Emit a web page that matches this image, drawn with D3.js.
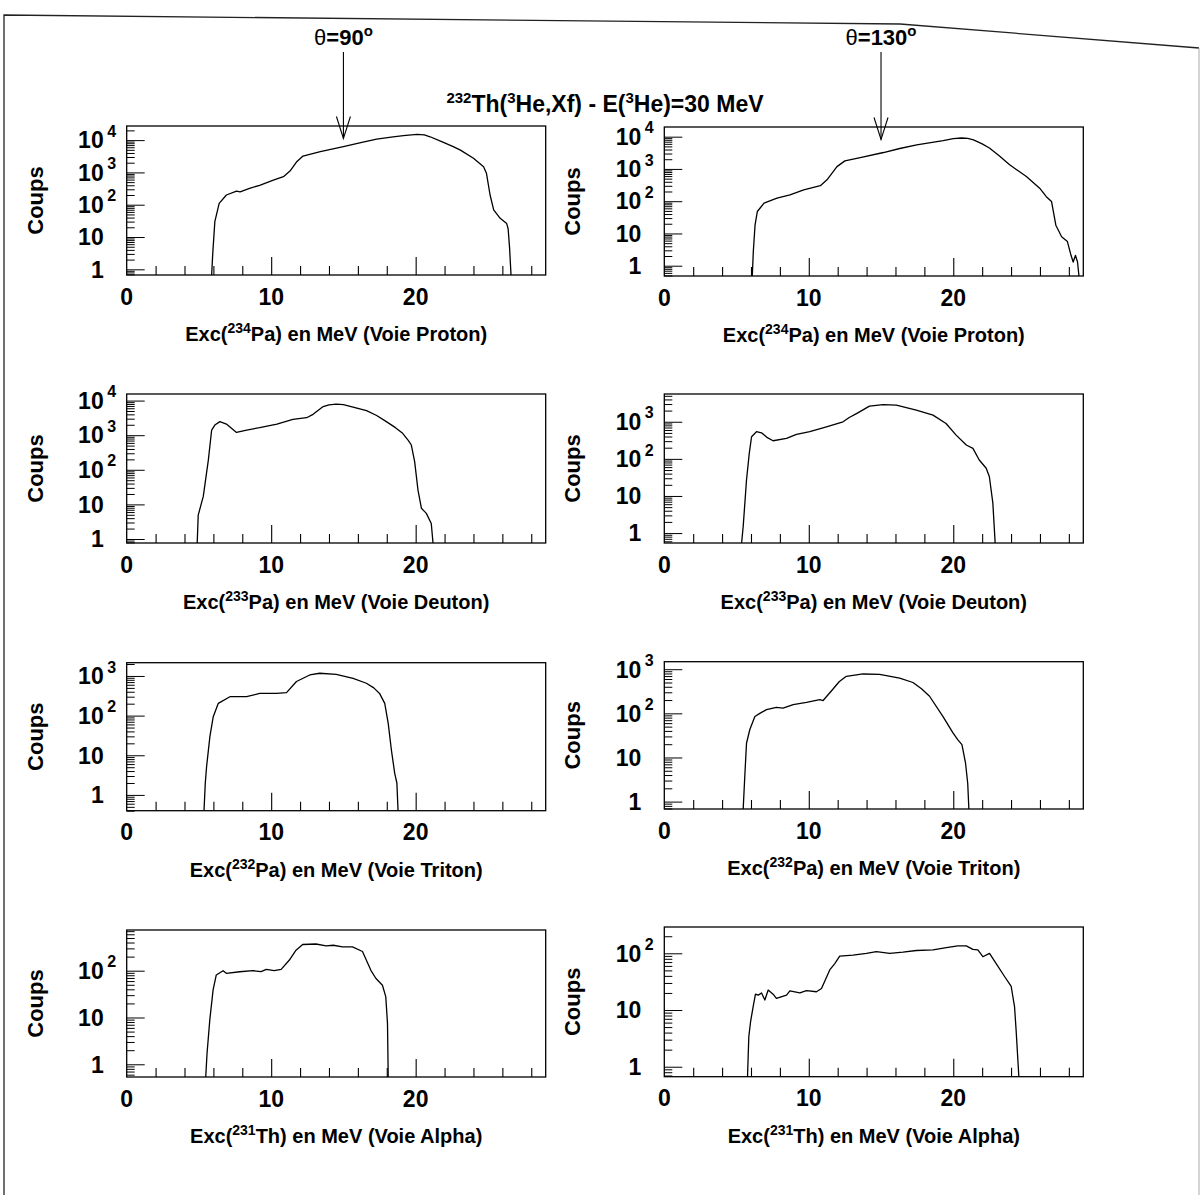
<!DOCTYPE html>
<html><head><meta charset="utf-8">
<script src="https://cdn.jsdelivr.net/npm/d3@7"></script>
<style>body{margin:0;background:#fff}</style>
</head><body>
<svg id="c" width="1202" height="1195"></svg>
<script>
// ---------------- data ----------------
const xMajorTicks = [0, 10, 20];
const xMinorTicks = [2, 4, 6, 8, 12, 14, 16, 18, 22, 24, 26, 28];
const nuclei = ["234", "234", "233", "233", "232", "232", "231", "231"];
const elements = ["Pa", "Pa", "Pa", "Pa", "Pa", "Pa", "Th", "Th"];
const channels = ["Proton", "Proton", "Deuton", "Deuton", "Triton", "Triton", "Alpha", "Alpha"];
const angles = ["90", "130"];
const arrowEnergy = 15;
const titleParts = ["232", "Th(", "3", "He,Xf) - E(", "3", "He)=30 MeV"];

// [excitation energy MeV, counts]; 0.1 = empty bins (below axis)
const proton90 = [[5.88,0.1],[5.95,2.8],[6.1,30],[6.4,110],[6.9,200],[7.6,265],[7.85,250],[8.5,320],[9.2,400],[10.15,580],[10.85,740],[11.3,1100],[11.75,2100],[12.2,3200],[13.4,4400],[15.0,6300],[16.2,8300],[17.3,10700],[18.3,12300],[19.15,13700],[20.1,15000],[20.6,14500],[21.0,12700],[21.8,9000],[22.6,6300],[23.1,4900],[24.0,2750],[24.7,1500],[24.9,940],[25.15,200],[25.4,69],[25.85,38],[26.3,26],[26.4,18],[26.5,4.6],[26.6,0.1]];
const proton130 = [[6.09,0.1],[6.16,2.7],[6.28,18],[6.44,48],[6.9,87],[7.8,124],[8.7,158],[9.65,225],[10.8,302],[11.26,460],[11.95,1180],[12.5,1780],[13.56,2250],[15.17,3230],[16.3,4300],[17.47,5600],[19.3,7600],[20.0,8700],[20.57,9100],[21.0,8800],[21.4,7950],[22.0,6000],[22.5,4460],[23.2,2500],[23.9,1340],[25.06,580],[25.98,253],[26.44,138],[26.8,98],[27.1,18],[27.5,7.9],[27.9,5.6],[28.15,2.1],[28.3,1.3],[28.46,2.1],[28.6,1.3],[28.7,0.1]];
const deuton90 = [[4.88,0.1],[4.95,4.9],[5.3,17],[5.65,190],[5.88,1410],[6.1,1960],[6.45,2460],[6.9,2100],[7.6,1200],[8.3,1410],[9.2,1650],[10.4,2100],[11.5,2880],[12.45,3200],[12.9,4000],[13.6,6700],[14.0,7500],[14.5,7950],[15.0,7600],[15.4,6950],[16.0,6000],[16.6,5100],[17.3,3700],[17.97,2460],[18.6,1650],[19.1,1130],[19.5,700],[19.7,520],[19.93,173],[20.16,26],[20.4,7.7],[20.74,5.5],[21.08,2.8],[21.2,0.1]];
const deuton130 = [[5.35,0.1],[5.46,1.5],[5.69,27],[5.88,141],[6.04,395],[6.38,540],[6.73,505],[7.1,380],[7.53,308],[8.46,357],[9.15,455],[10.07,540],[11.22,730],[12.37,1000],[12.8,1300],[13.3,1660],[14.2,2630],[15.14,2900],[16.06,2810],[17.44,2050],[18.6,1510],[19.5,900],[20.2,437],[20.9,236],[21.36,192],[21.8,93],[22.28,56],[22.5,33],[22.74,6.4],[22.9,0.1]];
const triton90 = [[5.35,0.1],[5.44,2],[5.53,5.2],[5.76,30],[5.99,94],[6.34,204],[7.14,300],[8.3,300],[9.2,363],[10.37,363],[11.06,380],[11.75,725],[12.67,1060],[13.36,1170],[14.5,1100],[15.67,870],[16.59,655],[17.1,500],[17.5,363],[17.86,204],[18.1,64],[18.32,13.6],[18.55,3.5],[18.7,2],[18.78,0.1]];
const triton130 = [[5.46,0.1],[5.57,3.7],[5.69,21],[5.92,43],[6.27,85],[6.61,100],[7.07,121],[7.76,137],[8.22,132],[8.92,158],[9.84,178],[10.76,204],[10.99,195],[11.68,357],[12.1,520],[12.6,692],[13.76,780],[14.9,760],[16.29,630],[17.21,500],[17.8,360],[18.36,244],[19.28,85],[19.98,36],[20.32,25],[20.6,19.5],[20.85,7.4],[21.0,2.6],[21.08,0.1]];
const alpha90 = [[5.47,0.1],[5.56,1.7],[5.75,8.8],[5.98,39],[6.2,81],[6.67,100],[6.9,88],[7.82,95],[8.74,100],[9.3,96],[9.66,107],[10.2,100],[10.69,107],[11.26,169],[11.72,275],[12.18,363],[13.1,372],[13.8,339],[14.3,350],[14.94,324],[15.63,324],[16.32,257],[16.9,102],[17.24,69],[17.7,49],[17.93,28],[18.05,7.5],[18.1,0.1]];
const alpha130 = [[5.76,0.1],[5.85,3.4],[5.97,6.2],[6.15,11.5],[6.31,19],[6.5,18.3],[6.73,20],[6.96,15],[7.19,22.5],[7.53,19],[7.76,16],[8.46,18.3],[8.69,21.7],[9.38,20],[9.84,22],[10.53,21],[10.88,24],[11.45,51],[11.8,66],[12.14,89],[13.06,93],[13.99,100],[14.68,107],[15.6,100],[16.52,105],[17.44,112],[18.6,115],[19.52,126],[20.32,135],[20.9,135],[21.36,117],[21.7,115],[22.05,87],[22.51,100],[22.97,66],[23.55,39],[24.01,26],[24.24,11.5],[24.35,4.4],[24.54,0.1]];

const series = [proton90, proton130, deuton90, deuton130, triton90, triton130, alpha90, alpha130];
// y ranges of each panel (counts at bottom, top of frame)
const yLow  = [0.667, 0.48, 0.766, 0.54, 0.40, 0.68, 0.535, 0.667];
const yHigh = [27350, 19950, 15500, 5600, 2160, 1480, 741, 291];

// ---------------- layout ----------------
const FONT = "'Liberation Sans', Arial, Helvetica, sans-serif";
const colX = [[126.7, 545.7], [664.3, 1083.3]];
const rowY = [[[126, 275], [127, 276]], [[394, 543], [394, 543]], [[662.7, 810.7], [661.7, 809]], [[930, 1077], [927, 1076.7]]];

const svg = d3.select("#c");
svg.append("rect").attr("width", 1202).attr("height", 1195).attr("fill", "#fff");

// page border (scanned page)
svg.append("path").attr("d", "M4,1195 L4,15 L900,24 L1199,48").attr("fill", "none").attr("stroke", "#222").attr("stroke-width", 1.3);
svg.append("path").attr("d", "M1199,48 L1199,1195").attr("fill", "none").attr("stroke", "#aaa").attr("stroke-width", 1);

series.forEach((data, i) => {
  const col = i % 2, row = Math.floor(i / 2);
  const [x0, x1] = colX[col];
  const [y0, y1] = rowY[row][col];
  const x = d3.scaleLinear().domain([0, 29]).range([x0, x1]);
  const y = d3.scaleLog().domain([yLow[i], yHigh[i]]).range([y1, y0]).clamp(true);
  const g = svg.append("g");

  // frame
  g.append("rect").attr("x", x0).attr("y", y0).attr("width", x1 - x0).attr("height", y1 - y0)
    .attr("fill", "none").attr("stroke", "#000").attr("stroke-width", 1.3);

  // x ticks (inside)
  const axB = (vals, len) => g.append("g").attr("transform", `translate(0,${y1})`)
    .call(d3.axisBottom(x).tickValues(vals).tickSize(-len).tickFormat(""))
    .call(s => { s.select(".domain").remove(); s.selectAll("line").attr("stroke", "#000").attr("stroke-width", 1.1); });
  axB(xMinorTicks, 9);
  axB(xMajorTicks.filter(v => v > 0), 18);

  // y ticks (inside)
  const decLo = Math.floor(Math.log10(yLow[i])), decHi = Math.ceil(Math.log10(yHigh[i]));
  const majors = [], minors = [];
  for (let d = decLo; d <= decHi; d++) {
    const b = Math.pow(10, d);
    if (b >= yLow[i] && b <= yHigh[i]) majors.push(b);
    for (let m = 2; m <= 9; m++) { const v = m * b; if (v >= yLow[i] && v <= yHigh[i]) minors.push(v); }
  }
  const axL = (vals, len) => g.append("g").attr("transform", `translate(${x0},0)`)
    .call(d3.axisLeft(y).tickValues(vals).tickSize(-len).tickFormat(""))
    .call(s => { s.select(".domain").remove(); s.selectAll("line").attr("stroke", "#000").attr("stroke-width", 1); });
  axL(minors, 8);
  axL(majors, 18);

  // y labels
  majors.forEach(v => {
    const e = Math.round(Math.log10(v));
    const ty = y(v);
    const base = e === 0 ? "1" : "10";
    g.append("text").attr("x", x0 - 23).attr("y", ty + 8.3).attr("text-anchor", "end")
      .attr("font-family", FONT).attr("font-weight", "bold").attr("font-size", 23).text(base);
    if (e >= 2) {
      g.append("text").attr("x", x0 - 19.5).attr("y", ty - 3.3)
        .attr("font-family", FONT).attr("font-weight", "bold").attr("font-size", 16).text(e);
    }
  });

  // x labels
  xMajorTicks.forEach(v => {
    g.append("text").attr("x", x(v)).attr("y", y1 + 29.5).attr("text-anchor", "middle")
      .attr("font-family", FONT).attr("font-weight", "bold").attr("font-size", 23).text(v);
  });

  // x title
  const t = g.append("text").attr("x", (x0 + x1) / 2).attr("y", y1 + 66).attr("text-anchor", "middle")
    .attr("font-family", FONT).attr("font-weight", "bold").attr("font-size", 20);
  t.append("tspan").text("Exc(");
  t.append("tspan").attr("font-size", 14).attr("dy", -8).text(nuclei[i]);
  t.append("tspan").attr("dy", 8).text(elements[i] + ") en MeV (Voie " + channels[i] + ")");

  // y title
  g.append("text").attr("transform", `translate(${x0 - 84},${(y0 + y1) / 2}) rotate(-90)`)
    .attr("text-anchor", "middle").attr("font-family", FONT).attr("font-weight", "bold").attr("font-size", 22).text("Coups");

  // histogram outline
  g.append("path").datum(data)
    .attr("d", d3.line().x(d => x(d[0])).y(d => y(d[1])))
    .attr("fill", "none").attr("stroke", "#000").attr("stroke-width", 1.3).attr("stroke-linejoin", "round");

  // angle arrows on top row
  if (row === 0) {
    const ax = x(arrowEnergy);
    const tip = y0 + 12.5;
    g.append("line").attr("x1", ax).attr("x2", ax).attr("y1", 52).attr("y2", tip).attr("stroke", "#000").attr("stroke-width", 1.1);
    g.append("path").attr("d", `M${ax - 7},${tip - 22} L${ax},${tip} L${ax + 7},${tip - 22}`)
      .attr("fill", "none").attr("stroke", "#000").attr("stroke-width", 1.1);
    const lab = g.append("text").attr("x", ax).attr("y", 45).attr("text-anchor", "middle")
      .attr("font-family", FONT).attr("font-size", 22);
    lab.append("tspan").attr("font-weight", "normal").text("θ");
    lab.append("tspan").attr("font-weight", "bold").text("=" + angles[col]);
    lab.append("tspan").attr("font-weight", "bold").attr("font-size", 15).attr("dy", -9).text("o");
  }
});

// main title
const title = svg.append("text").attr("x", 605).attr("y", 111.7).attr("text-anchor", "middle")
  .attr("font-family", FONT).attr("font-weight", "bold").attr("font-size", 23);
titleParts.forEach((p, k) => {
  const sup = k % 2 === 0;
  title.append("tspan").attr("font-size", sup ? 15 : 23).attr("dy", sup ? -9 : 9).text(p);
});
</script>
</body></html>
